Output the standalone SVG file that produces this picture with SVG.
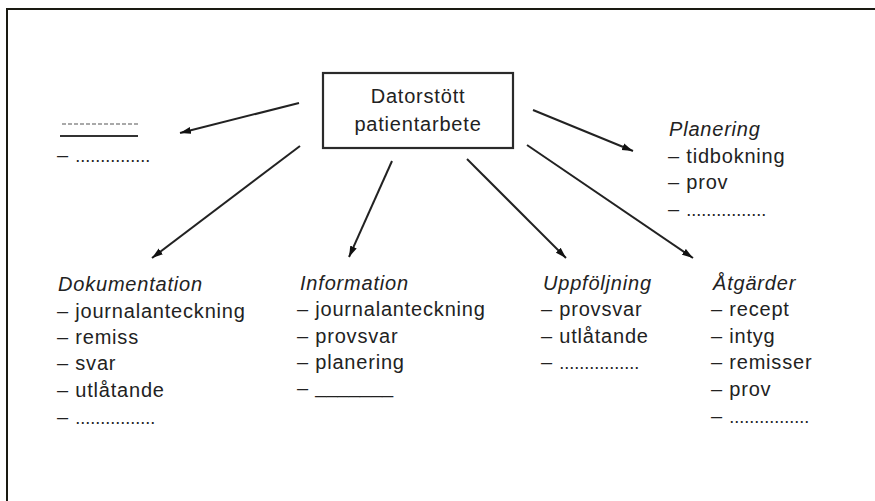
<svg xmlns="http://www.w3.org/2000/svg" width="875" height="501" viewBox="0 0 875 501">
  <style>
    .t { font-family: "Liberation Sans", Arial, sans-serif; font-size: 20px; letter-spacing: 0.8px; fill: #222; }
    .h { font-style: italic; }
    .dots { letter-spacing: 0; font-size: 18px; }
    .frame { stroke: #1a1a12; stroke-width: 2; fill: none; }
    .box { stroke: #2a2a2a; stroke-width: 2.2; fill: #fff; }
    .conn { stroke: #222; stroke-width: 2; fill: none; marker-end: url(#head); }
  </style>
  <defs>
    <marker id="head" markerUnits="userSpaceOnUse" markerWidth="12" markerHeight="8" refX="11" refY="4" orient="auto">
      <path d="M0,0.5 L11,4 L0,7.5 Z" fill="#111"/>
    </marker>
  </defs>

  <rect width="875" height="501" fill="#fff"/>
  <!-- open frame: top and left edges only -->
  <path class="frame" d="M875,9 H7 V501"/>

  <g id="connectors">
    <line class="conn" x1="299" y1="103" x2="180" y2="133"/>
    <line class="conn" x1="300" y1="146" x2="152" y2="258"/>
    <line class="conn" x1="392" y1="161" x2="349" y2="257"/>
    <line class="conn" x1="467" y1="159" x2="566" y2="258"/>
    <line class="conn" x1="527" y1="145" x2="693" y2="258"/>
    <line class="conn" x1="533" y1="110" x2="633" y2="151"/>
  </g>

  <g id="center">
    <rect class="box" x="323" y="73" width="190" height="75"/>
    <text class="t" x="418" y="103" text-anchor="middle">Datorstött</text>
    <text class="t" x="418" y="131" text-anchor="middle">patientarbete</text>
  </g>

  <g id="blank">
    <line x1="62" y1="124" x2="140" y2="124" stroke="#555" stroke-width="1.2" stroke-dasharray="4 2"/>
    <line x1="60" y1="136" x2="138" y2="136" stroke="#333" stroke-width="2"/>
    <text class="t" x="57" y="162">– <tspan class="dots">...............</tspan></text>
  </g>

  <g id="planering">
    <text class="t h" x="669" y="136">Planering</text>
    <text class="t" x="668" y="163">– tidbokning</text>
    <text class="t" x="668" y="189">– prov</text>
    <text class="t" x="668" y="216">– <tspan class="dots">................</tspan></text>
  </g>

  <g id="dokumentation">
    <text class="t h" x="58" y="291">Dokumentation</text>
    <text class="t" x="57" y="318">– journalanteckning</text>
    <text class="t" x="57" y="344">– remiss</text>
    <text class="t" x="57" y="370">– svar</text>
    <text class="t" x="57" y="397">– utlåtande</text>
    <text class="t" x="57" y="424">– <tspan class="dots">................</tspan></text>
  </g>

  <g id="information">
    <text class="t h" x="300" y="290">Information</text>
    <text class="t" x="297" y="316">– journalanteckning</text>
    <text class="t" x="297" y="343">– provsvar</text>
    <text class="t" x="297" y="369">– planering</text>
    <text class="t" x="297" y="395">– <tspan style="letter-spacing:0" dy="-2">_______</tspan></text>
  </g>

  <g id="uppfoljning">
    <text class="t h" x="543" y="290">Uppföljning</text>
    <text class="t" x="541" y="316">– provsvar</text>
    <text class="t" x="541" y="343">– utlåtande</text>
    <text class="t" x="541" y="369">– <tspan class="dots">................</tspan></text>
  </g>

  <g id="atgarder">
    <text class="t h" x="713" y="290">Åtgärder</text>
    <text class="t" x="711" y="316">– recept</text>
    <text class="t" x="711" y="343">– intyg</text>
    <text class="t" x="711" y="369">– remisser</text>
    <text class="t" x="711" y="396">– prov</text>
    <text class="t" x="711" y="423">– <tspan class="dots">................</tspan></text>
  </g>
</svg>
